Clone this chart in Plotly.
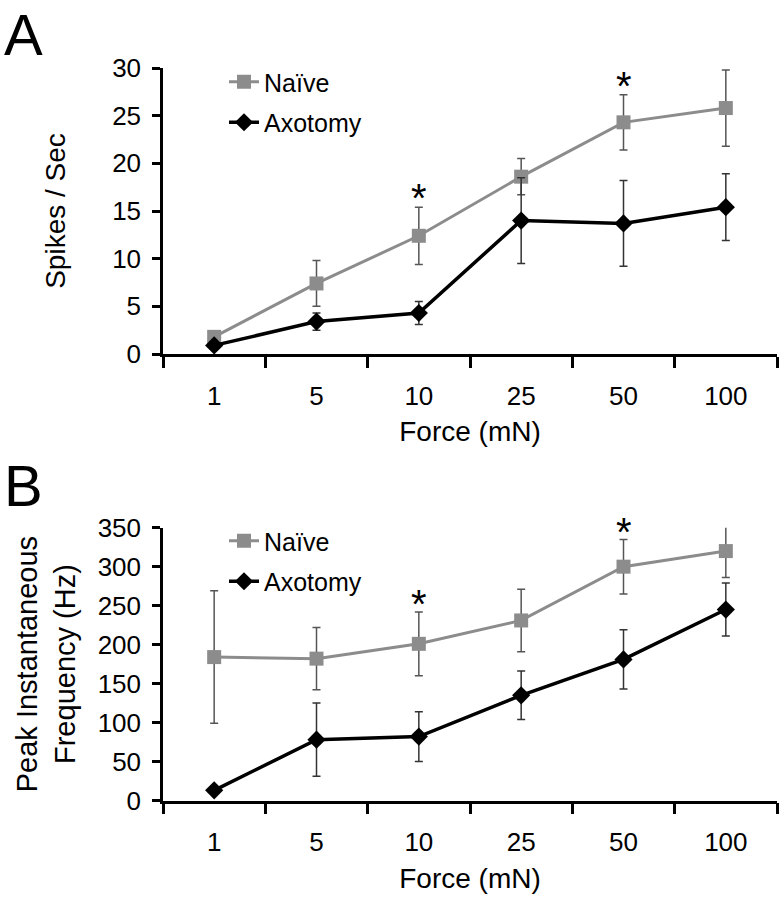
import plotly.graph_objects as go

forces = ["1", "5", "10", "25", "50", "100"]

# Panel A: Spikes / Sec
spikes_naive = [1.8, 7.4, 12.4, 18.6, 24.3, 25.8]
spikes_naive_err = [0.4, 2.4, 3.0, 1.9, 2.9, 4.0]
spikes_axo = [0.9, 3.4, 4.3, 14.0, 13.7, 15.4]
spikes_axo_err = [0.3, 0.9, 1.2, 4.5, 4.5, 3.5]
spikes_sig = ["10", "50"]
spikes_sig_y = [16.4, 28.1]

# Panel B: Peak instantaneous frequency (Hz)
freq_naive = [184, 182, 201, 231, 300, 320]
freq_naive_err = [85, 40, 41, 40, 35, 34]
freq_axo = [13, 78, 82, 135, 181, 245]
freq_axo_err = [0, 47, 32, 31, 38, 34]
freq_sig = ["10", "50"]
freq_sig_y = [252, 345]

FONT = "Liberation Sans, Arial, sans-serif"
GRAY = "#8c8c8c"
W, H = 784, 899

fig = go.Figure()

def add_series(x, y, err, name, color, symbol, size, lw, ecolor, xa, ya, legend):
    fig.add_trace(go.Scatter(
        x=x, y=y, name=name, mode="lines+markers",
        line=dict(color=color, width=lw),
        marker=dict(symbol=symbol, size=size, color=color),
        error_y=dict(type="data", array=err, visible=True, color=ecolor,
                     thickness=1.5, width=4),
        xaxis=xa, yaxis=ya, legend=legend, legendgroup=legend + name,
        cliponaxis=False,
    ))

add_series(forces, spikes_naive, spikes_naive_err, "Naïve", GRAY, "square", 14, 3, "#555555", "x", "y", "legend")
add_series(forces, spikes_axo, spikes_axo_err, "Axotomy", "#000000", "diamond", 14, 3.5, "#333333", "x", "y", "legend")
add_series(forces, freq_naive, freq_naive_err, "Naïve", GRAY, "square", 14, 3, "#555555", "x2", "y2", "legend2")
add_series(forces, freq_axo, freq_axo_err, "Axotomy", "#000000", "diamond", 14, 3.5, "#333333", "x2", "y2", "legend2")

def px_x(p):
    return p / W

def px_y(p):
    return 1 - p / H

xdom = [px_x(163), px_x(777)]

xax = dict(
    type="category", categoryorder="array", categoryarray=forces,
    tickson="boundaries", ticks="outside", ticklen=11, tickwidth=2.5,
    tickcolor="black", showline=True, linecolor="black", linewidth=2.5,
    showgrid=False, zeroline=False, range=[-0.5, 5.5], automargin=False,
    tickfont=dict(family=FONT, size=26, color="black"),
    title=dict(text="Force (mN)", font=dict(family=FONT, size=28, color="black"), standoff=12),
    ticklabelstandoff=17,
    domain=xdom,
)
yax = dict(
    ticks="outside", ticklen=8, tickwidth=2.5, tickcolor="black",
    showline=True, linecolor="black", linewidth=2.5, showgrid=False,
    zeroline=False, automargin=False,
    tickfont=dict(family=FONT, size=26, color="black"),
    ticklabelstandoff=6,
)

fig.update_layout(
    width=W, height=H,
    margin=dict(l=0, r=0, t=0, b=0, autoexpand=False),
    paper_bgcolor="white", plot_bgcolor="white",
    font=dict(family=FONT, color="black"),
    xaxis=dict(xax, anchor="y"),
    xaxis2=dict(xax, anchor="y2"),
    yaxis=dict(yax, range=[0, 30], dtick=5, anchor="x",
               domain=[px_y(354), px_y(68)],
               title=dict(text="Spikes / Sec", font=dict(family=FONT, size=28, color="black"), standoff=39)),
    yaxis2=dict(yax, range=[0, 350], dtick=50, anchor="x2",
                domain=[px_y(800.5), px_y(527.7)],
                title=dict(text="Peak Instantaneous<br>Frequency (Hz)", font=dict(family=FONT, size=29, color="black"), standoff=14)),
    legend=dict(x=px_x(224), y=px_y(59), xanchor="left", yanchor="top",
                font=dict(family=FONT, size=25, color="black"),
                bgcolor="rgba(0,0,0,0)", tracegroupgap=5),
    legend2=dict(x=px_x(224), y=px_y(518), xanchor="left", yanchor="top",
                 font=dict(family=FONT, size=25, color="black"),
                 bgcolor="rgba(0,0,0,0)", tracegroupgap=5),
    showlegend=True,
)

annots = []
for cat, yv in zip(spikes_sig, spikes_sig_y):
    annots.append(dict(x=forces.index(cat), y=yv, xref="x", yref="y", text="*", showarrow=False,
                       font=dict(family=FONT, size=40, color="black"), yanchor="middle"))
for cat, yv in zip(freq_sig, freq_sig_y):
    annots.append(dict(x=forces.index(cat), y=yv, xref="x2", yref="y2", text="*", showarrow=False,
                       font=dict(family=FONT, size=40, color="black"), yanchor="middle"))
annots.append(dict(x=px_x(2), y=px_y(0), xref="paper", yref="paper", text="A", showarrow=False,
                   xanchor="left", yanchor="top", font=dict(family=FONT, size=58, color="black")))
annots.append(dict(x=px_x(2), y=px_y(451), xref="paper", yref="paper", text="B", showarrow=False,
                   xanchor="left", yanchor="top", font=dict(family=FONT, size=58, color="black")))
fig.update_layout(annotations=annots)

# remove the default page margin so the figure fills the window exactly
fig.write_html("out.html", config={"displayModeBar": False},
               post_script="document.body.style.margin='0';")
